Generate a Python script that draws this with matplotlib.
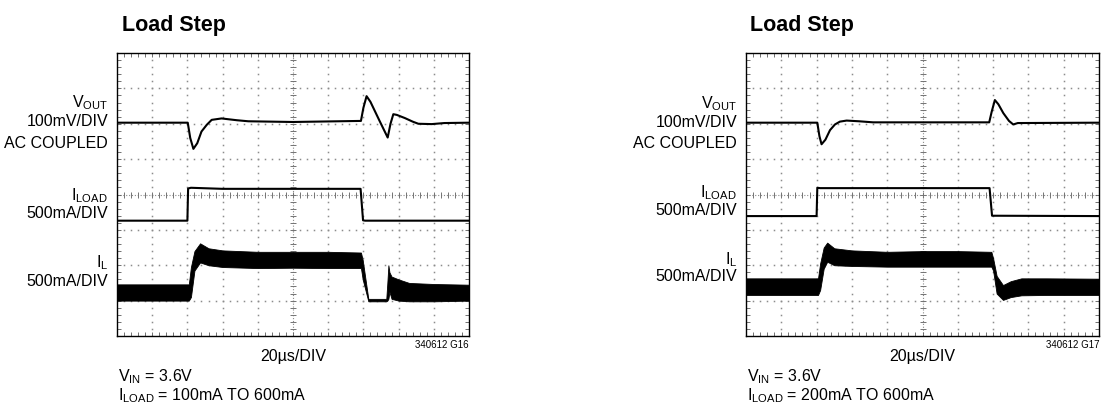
import numpy as np
import matplotlib
matplotlib.use('Agg')
import matplotlib.pyplot as plt
from matplotlib import font_manager

#==============================================================================
#DATA  (x in divisions 0..10, y in divisions 0..8)
#==============================================================================

# left shot : ILOAD = 100mA TO 600mA
vout_x_l = [0, 2.01, 2.08, 2.17, 2.28, 2.40, 2.55, 2.69, 2.97, 3.40, 3.73, 5.0,
            6.93, 7.00, 7.09, 7.20, 7.45, 7.69, 7.77, 7.85, 7.95, 8.18, 8.40,
            8.56, 8.94, 9.30, 10]
vout_y_l = [6.03, 6.03, 5.60, 5.29, 5.45, 5.78, 5.97, 6.11, 6.15, 6.10, 6.07, 6.05,
            6.08, 6.45, 6.78, 6.62, 6.10, 5.61, 6.00, 6.27, 6.25, 6.16, 6.06,
            6.00, 5.99, 6.02, 6.03]

iload_x_l = [0, 2.00, 2.02, 2.10, 3.0, 6.92, 6.99, 7.05, 10]
iload_y_l = [3.26, 3.26, 4.17, 4.19, 4.16, 4.16, 3.27, 3.26, 3.26]

il_x_l = [0, 2.04, 2.10, 2.20, 2.36, 2.60, 3.0, 4.0, 5.0, 6.0, 6.93, 6.98,
          7.14, 7.65, 7.68, 7.71, 7.74, 7.80, 8.0, 8.3, 9.0, 10]
il_hi_l = [1.46, 1.46, 1.95, 2.40, 2.62, 2.48, 2.42, 2.38, 2.38, 2.38, 2.36, 2.15,
           1.05, 1.05, 1.50, 2.00, 1.80, 1.68, 1.60, 1.50, 1.47, 1.45]
il_lo_l = [1.00, 1.00, 1.10, 1.85, 2.08, 2.00, 1.95, 1.92, 1.93, 1.92, 1.92, 1.60,
           0.98, 0.98, 1.00, 1.05, 1.25, 1.05, 1.00, 0.98, 0.98, 1.00]

# right shot : ILOAD = 200mA TO 600mA
vout_x_r = [0, 2.02, 2.08, 2.14, 2.25, 2.38, 2.52, 2.66, 2.85, 3.20, 3.60,
            6.89, 6.96, 7.05, 7.15, 7.29, 7.45, 7.57, 7.70, 10]
vout_y_r = [6.03, 6.03, 5.65, 5.42, 5.55, 5.82, 5.98, 6.06, 6.09, 6.07, 6.04,
            6.04, 6.34, 6.67, 6.55, 6.30, 6.08, 5.98, 6.02, 6.03]

iload_x_r = [0, 2.00, 2.02, 2.10, 6.90, 6.97, 10]
iload_y_r = [3.39, 3.39, 4.19, 4.18, 4.18, 3.40, 3.39]

il_x_r = [0, 2.04, 2.10, 2.20, 2.30, 2.50, 3.0, 4.0, 5.0, 6.0, 6.95, 7.00,
          7.10, 7.28, 7.50, 7.80, 8.5, 10]
il_hi_r = [1.63, 1.63, 2.05, 2.50, 2.64, 2.48, 2.42, 2.38, 2.40, 2.40, 2.38, 2.20,
           1.70, 1.44, 1.55, 1.63, 1.63, 1.62]
il_lo_r = [1.16, 1.16, 1.30, 1.90, 2.10, 2.00, 1.98, 1.96, 1.96, 1.96, 1.96, 1.85,
           1.20, 1.02, 1.10, 1.15, 1.16, 1.16]

fig_ids = ['340612 G16', '340612 G17']
step_txt = ['100mA TO 600mA', '200mA TO 600mA']

#==============================================================================
#SETTINGS
#==============================================================================

W, H = 1101, 412

def pick_font(names):
    for n in names:
        try:
            font_manager.findfont(n, fallback_to_default=False)
            return n
        except Exception:
            pass
    return 'DejaVu Sans'

narrow = pick_font(['Liberation Sans Narrow', 'Arial Narrow', 'Liberation Sans'])
is_narrow = 'Narrow' in narrow
txt_size = 13 if is_narrow else 11.5
title_size = 18.5 if is_narrow else 15.5

plt.rcParams['font.family'] = [narrow, 'DejaVu Sans']
plt.rcParams['mathtext.fontset'] = 'custom'
plt.rcParams['mathtext.rm'] = narrow
plt.rcParams['mathtext.it'] = narrow
plt.rcParams['mathtext.bf'] = narrow + ':bold'

grid_c = '0.55'

def ftxt(f, px, py, s, **kw):
    # place text using pixel coords (from top-left)
    kw.setdefault('fontsize', txt_size)
    kw.setdefault('va', 'baseline')
    f.text(px / W, 1 - py / H, s, **kw)

def draw_grid(ax):
    fx = np.arange(0, 10.001, 0.2)
    fy = np.arange(0, 8.001, 0.2)
    for gx in range(1, 10):
        if gx == 5:
            continue
        ax.plot(np.full_like(fy, gx), fy, ls='none', marker='s', ms=1.1,
                mew=0, color=grid_c, zorder=1)
    for gy in range(1, 8):
        if gy == 4:
            continue
        ax.plot(fx, np.full_like(fx, gy), ls='none', marker='s', ms=1.1,
                mew=0, color=grid_c, zorder=1)
    # centre cross with tick marks
    ax.axvline(5, color=grid_c, lw=0.8, ls=(0, (1, 1.6)), zorder=1)
    ax.axhline(4, color=grid_c, lw=0.8, ls=(0, (1, 1.6)), zorder=1)
    ax.plot(fx, np.full_like(fx, 4), ls='none', marker='|', ms=4, mew=0.7,
            color='0.45', zorder=1)
    ax.plot(np.full_like(fy, 5), fy, ls='none', marker='_', ms=4, mew=0.7,
            color='0.45', zorder=1)
    ax.set_xticks(fx)
    ax.set_yticks(fy)
    ax.tick_params(direction='in', length=3, width=0.6, color='0.35',
                   top=True, right=True, labelbottom=False, labelleft=False)
    ax.set_xlim(0, 10)
    ax.set_ylim(0, 8)
    for sp in ax.spines.values():
        sp.set_linewidth(1.0)
        sp.set_color('black')

#==============================================================================
#PLOTTING
#==============================================================================

f = plt.figure(figsize=(W / 100, H / 100), dpi=100)

panels = [
    dict(left=117, right=469, vx=vout_x_l, vy=vout_y_l, lx=iload_x_l, ly=iload_y_l,
         ix=il_x_l, ihi=il_hi_l, ilo=il_lo_l, lab_x=108,
         lab_y=[107, 126, 147.5, 200, 218, 267, 286], title_x=122),
    dict(left=746, right=1099, vx=vout_x_r, vy=vout_y_r, lx=iload_x_r, ly=iload_y_r,
         ix=il_x_r, ihi=il_hi_r, ilo=il_lo_r, lab_x=737,
         lab_y=[108, 127, 148, 197, 215, 264, 281], title_x=750),
]

top, bot = 53, 336
for k, p in enumerate(panels):
    ax = f.add_axes([p['left'] / W, 1 - bot / H, (p['right'] - p['left']) / W,
                     (bot - top) / H])
    draw_grid(ax)
    ax.plot(p['vx'], p['vy'], color='black', lw=1.5, zorder=3)
    ax.plot(p['lx'], p['ly'], color='black', lw=1.5, zorder=3)
    ax.fill_between(p['ix'], p['ilo'], p['ihi'], color='black', lw=0.6, zorder=3)

    ftxt(f, p['title_x'], 31, 'Load Step', fontsize=title_size, fontweight='bold')

    ly = p['lab_y']
    lx = p['lab_x']
    ftxt(f, lx, ly[0], r'V$_{\mathrm{OUT}}$', ha='right')
    ftxt(f, lx, ly[1], '100mV/DIV', ha='right')
    ftxt(f, lx, ly[2], 'AC COUPLED', ha='right')
    ftxt(f, lx, ly[3], r'I$_{\mathrm{LOAD}}$', ha='right')
    ftxt(f, lx, ly[4], '500mA/DIV', ha='right')
    ftxt(f, lx, ly[5], r'I$_{\mathrm{L}}$', ha='right')
    ftxt(f, lx, ly[6], '500mA/DIV', ha='right')

    mid = (p['left'] + p['right']) / 2
    ftxt(f, mid, 361, '20\u00b5s/DIV', ha='center')
    ftxt(f, p['right'], 348, fig_ids[k], ha='right', fontsize=7)
    ftxt(f, p['left'] + 1, 381, r'V$_{\mathrm{IN}}$ = 3.6V', ha='left')
    ftxt(f, p['left'] + 1, 400, r'I$_{\mathrm{LOAD}}$ = ' + step_txt[k], ha='left')

f.savefig('out.png', dpi=100)
